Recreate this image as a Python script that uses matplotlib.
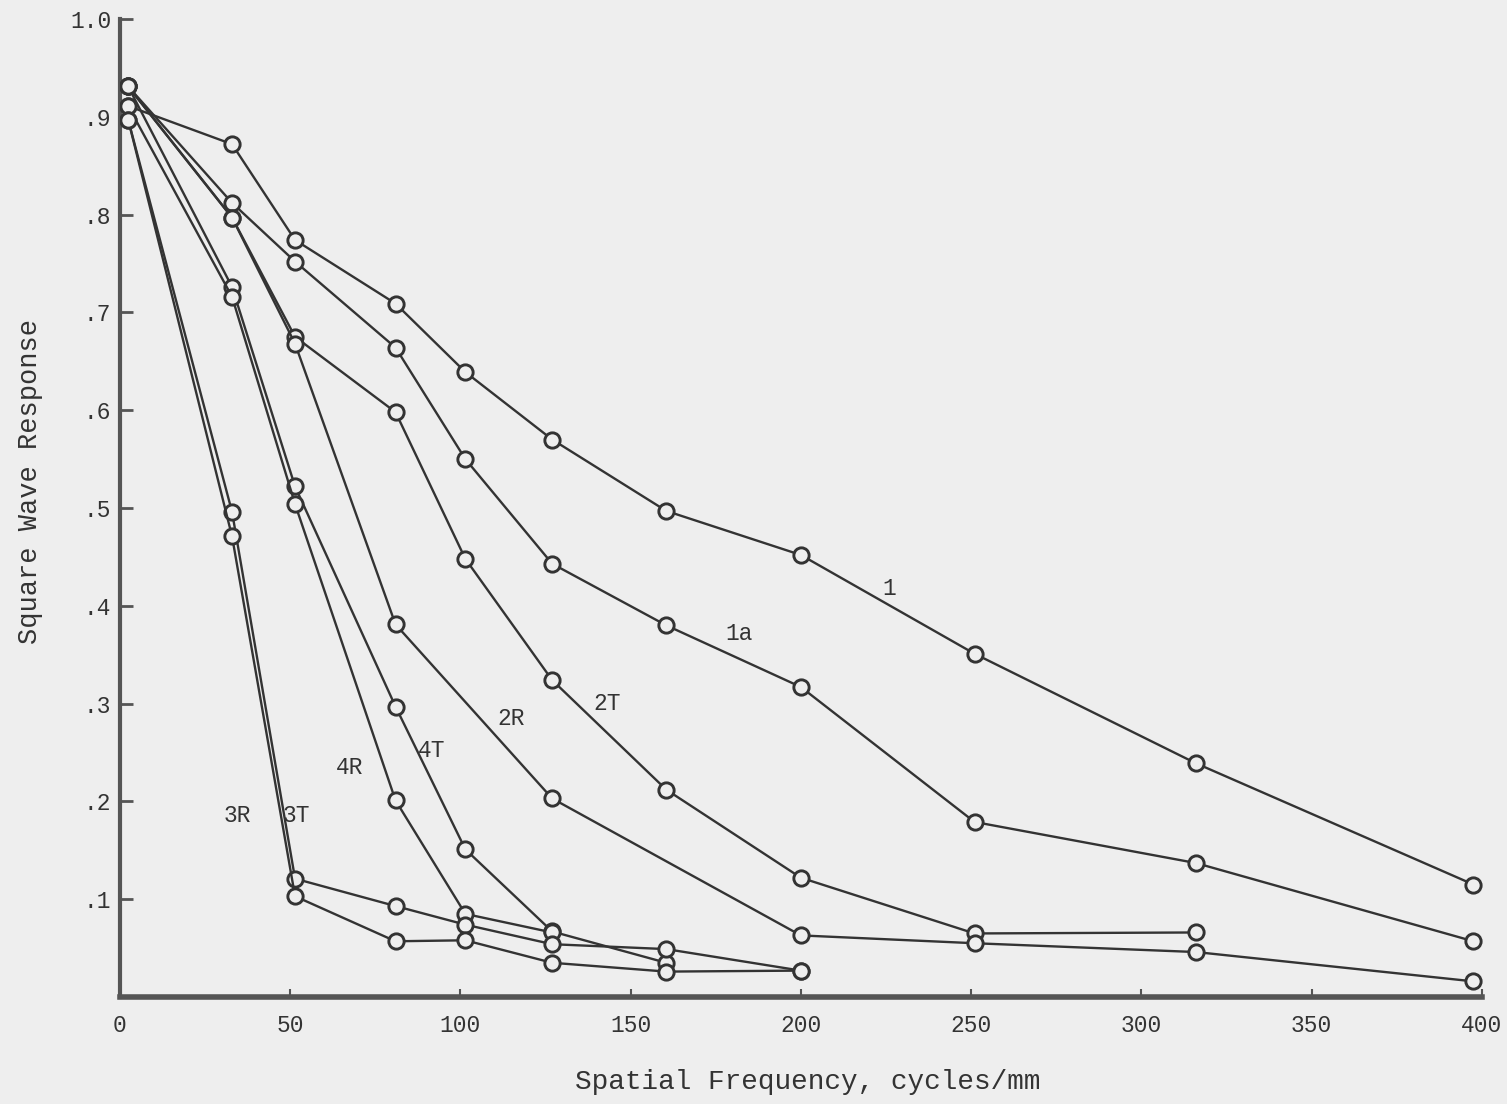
import matplotlib.pyplot as plt

# spatial frequency (cycles/mm) at which each curve was measured
freq = [2.5, 33, 51.5, 81, 101.5, 127, 160.5, 200, 251, 316, 397.5]

# square wave response, one list per curve
resp_1 = [0.911, 0.872, 0.774, 0.709, 0.639, 0.570, 0.497, 0.452, 0.351, 0.239, 0.115]
resp_1a = [0.931, 0.812, 0.752, 0.664, 0.550, 0.443, 0.380, 0.317, 0.179, 0.137, 0.057]
resp_2T = [0.931, 0.797, 0.675, 0.598, 0.448, 0.324, 0.212, 0.122, 0.065, 0.066]
resp_2R = [0.931, 0.797, 0.668, 0.381, None, 0.203, None, 0.063, 0.055, 0.046, 0.016]
resp_4T = [0.931, 0.726, 0.522, 0.297, 0.151, 0.067, 0.035]
resp_4R = [0.911, 0.716, 0.504, 0.201, 0.085, 0.066]
resp_3T = [0.897, 0.496, 0.121, 0.093, 0.074, 0.054, 0.049, 0.027]
resp_3R = [0.897, 0.471, 0.103, 0.057, 0.058, 0.035, 0.026, 0.027]

curves = [resp_1, resp_1a, resp_2T, resp_2R, resp_4T, resp_4R, resp_3T, resp_3R]

# curve names and where they are written
curve_names = ['1', '1a', '2T', '2R', '4T', '4R', '3T', '3R']
name_x = [226, 182, 143, 115, 91.5, 67.5, 52, 34.5]
name_y = [0.418, 0.372, 0.300, 0.285, 0.252, 0.235, 0.186, 0.186]

y_ticks = [0.1, 0.2, 0.3, 0.4, 0.5, 0.6, 0.7, 0.8, 0.9, 1.0]
y_ticklabels = ['.1', '.2', '.3', '.4', '.5', '.6', '.7', '.8', '.9', '1.0']
x_ticks = [0, 50, 100, 150, 200, 250, 300, 350, 400]

bg = '#eeeeee'
ink = '#333333'
font = 'Liberation Mono'

fig = plt.figure(figsize=(15.07, 11.04), dpi=100, facecolor=bg)
ax = fig.add_axes([0.0794, 0.0969, 0.904, 0.8859])
ax.set_facecolor(bg)

for resp in curves:
    xs = [f for f, r in zip(freq, resp) if r is not None]
    ys = [r for r in resp if r is not None]
    ax.plot(xs, ys, color=ink, lw=1.7, marker='o', ms=11,
            mfc=bg, mec=ink, mew=2.1, zorder=3)

for name, tx, ty in zip(curve_names, name_x, name_y):
    ax.text(tx, ty, name, fontsize=16.5, family=font, color=ink,
            ha='center', va='center', zorder=4)

ax.set_xlim(0, 400)
ax.set_ylim(0, 1.0)

ax.set_yticks(y_ticks)
ax.set_yticklabels(y_ticklabels)
ax.set_xticks(x_ticks)

ax.tick_params(axis='y', direction='in', length=9, width=2, color='#555555',
               labelsize=16.5, pad=6)
ax.tick_params(axis='x', direction='in', length=6, width=1.5, color='#555555',
               labelsize=16.5, pad=12)
for lab in ax.get_xticklabels() + ax.get_yticklabels():
    lab.set_family(font)
    lab.set_color(ink)

for side in ['top', 'right']:
    ax.spines[side].set_visible(False)
ax.spines['left'].set_linewidth(3)
ax.spines['bottom'].set_linewidth(4)
ax.spines['left'].set_color('#555555')
ax.spines['bottom'].set_color('#555555')

ax.set_xlabel('Spatial Frequency, cycles/mm', fontsize=20, family=font,
              color=ink, va='center', ha='center')
ax.xaxis.set_label_coords(0.505, -0.087)
ax.set_ylabel('Square Wave Response', fontsize=19.5, family=font,
              color=ink, va='center', ha='center')
ax.yaxis.set_label_coords(-0.066, 0.527)

fig.savefig('out.png', dpi=100, facecolor=bg)
